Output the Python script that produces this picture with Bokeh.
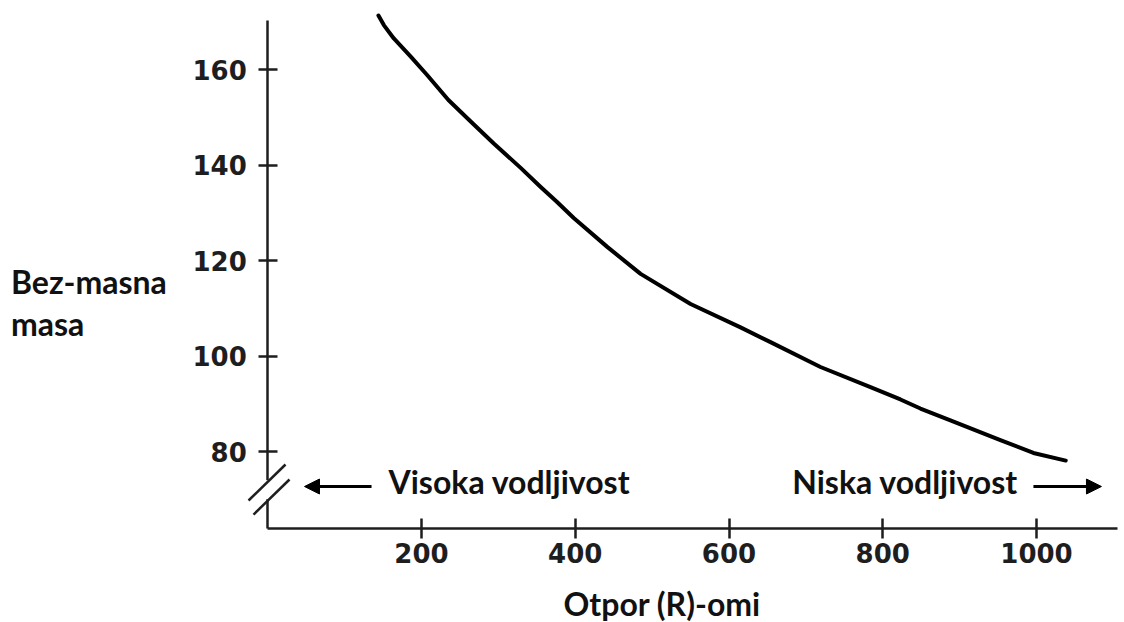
from bokeh.plotting import figure
from bokeh.models import (Range1d, LinearAxis, FixedTicker, Label, Arrow,
                          NormalHead, BoxAnnotation, ColumnDataSource)
from bokeh.embed import file_html
from bokeh.resources import INLINE

# ---------------- data ----------------
resistance = [144, 151, 164, 186, 207, 235, 264, 294, 329, 355, 376, 398,
              442, 485, 550, 615, 654, 719, 784, 823, 849, 888, 953, 996,
              1038]
lean_mass = [171.3, 169.3, 166.5, 162.7, 158.9, 153.6, 149.1, 144.5, 139.4,
             135.4, 132.3, 128.9, 122.8, 117.2, 110.9, 106.0, 102.9, 97.7,
             93.5, 90.9, 89.0, 86.5, 82.4, 79.7, 78.1]
x_ticks = [200, 400, 600, 800, 1000]
y_ticks = [80, 100, 120, 140, 160]
x_title = "Otpor  (R)-omi"
y_title = ["Bez-masna", "masa"]
left_note = "Visoka vodljivost"
right_note = "Niska vodljivost"

# ---------------- layout ----------------
W, H = 1124, 622
PX_X = 0.76875            # pixels per ohm
X0_PX = 267.25            # pixel column of R = 0
PX_Y = 4.775              # pixels per mass unit
Y80_PX = 451.0            # pixel row of mass = 80

X_START = (0 - X0_PX) / PX_X
X_END = (W - X0_PX) / PX_X
Y_END = 80 + Y80_PX / PX_Y
Y_START = 80 - (H - Y80_PX) / PX_Y
X_AXIS_AT = 80 - (528 - Y80_PX) / PX_Y
Y_AXIS_TOP = 80 + (Y80_PX - 20) / PX_Y
X_AXIS_RIGHT = (1117 - X0_PX) / PX_X

INK = "#1e1e1e"
TEXT_FONT = "Lato"
TEXT_SIZE = "32px"

p = figure(width=W, height=H,
           x_range=Range1d(X_START, X_END), y_range=Range1d(Y_START, Y_END),
           output_backend="svg", toolbar_location=None, title=None,
           x_axis_location=None, y_axis_location=None,
           min_border_left=0, min_border_right=0,
           min_border_top=0, min_border_bottom=0)
p.outline_line_color = None
p.background_fill_color = "white"
p.border_fill_color = "white"
for g in p.grid:
    g.visible = False

def style_axis(ax):
    ax.axis_line_width = 2.5
    ax.axis_line_color = INK
    ax.major_tick_line_width = 2.5
    ax.major_tick_line_color = INK
    ax.minor_tick_line_color = None
    ax.major_label_text_font = "DejaVu Sans"
    ax.major_label_text_font_style = "bold"
    ax.major_label_text_font_size = "26px"
    ax.major_label_text_color = INK

yaxis = LinearAxis(fixed_location=0, ticker=FixedTicker(ticks=y_ticks),
                   bounds=(X_AXIS_AT, Y_AXIS_TOP))
style_axis(yaxis)
yaxis.major_tick_in = 10
yaxis.major_tick_out = 9
yaxis.major_label_standoff = 12
p.add_layout(yaxis, "left")

xaxis = LinearAxis(fixed_location=X_AXIS_AT, ticker=FixedTicker(ticks=x_ticks),
                   bounds=(0, X_AXIS_RIGHT))
style_axis(xaxis)
xaxis.major_tick_in = 10
xaxis.major_tick_out = 10
xaxis.major_label_standoff = 4
p.add_layout(xaxis, "below")

# curve
src = ColumnDataSource(dict(r=resistance, m=lean_mass))
p.line("r", "m", source=src, line_width=4, line_color="black",
       line_cap="round", line_join="round")

# axis break: hide the piece of axis between the slashes, then draw them
p.add_layout(BoxAnnotation(left=-4, right=4, bottom=70.0, top=74.0,
                           fill_color="white", fill_alpha=1.0,
                           line_color=None))
brk = p.segment(x0=[-25.0, -18.5], y0=[69.74, 66.8],
                x1=[23.1, 28.3], y1=[77.28, 74.14],
                line_width=2.5, line_color=INK)
brk.level = "overlay"

# arrows
p.add_layout(Arrow(x_start=135, y_start=72.67, x_end=47.8, y_end=72.67,
                   line_width=3, line_color="black",
                   end=NormalHead(size=15, fill_color="black",
                                  line_color="black")))
p.add_layout(Arrow(x_start=996, y_start=72.67, x_end=1084.5, y_end=72.67,
                   line_width=3, line_color="black",
                   end=NormalHead(size=15, fill_color="black",
                                  line_color="black")))

def add_text(x, y, txt):
    p.add_layout(Label(x=x, y=y, text=txt, text_font=TEXT_FONT,
                       text_font_size=TEXT_SIZE, text_font_style="bold",
                       text_color="#111111", text_align="left",
                       text_baseline="alphabetic"))

add_text(157.1, 73.7, left_note)
add_text(682.3, 73.7, right_note)
add_text(384.7, 48.1, x_title)
add_text(-334.0, 115.5, y_title[0])
add_text(-334.0, 106.8, y_title[1])

open("out.html", "w").write(file_html(p, INLINE))
